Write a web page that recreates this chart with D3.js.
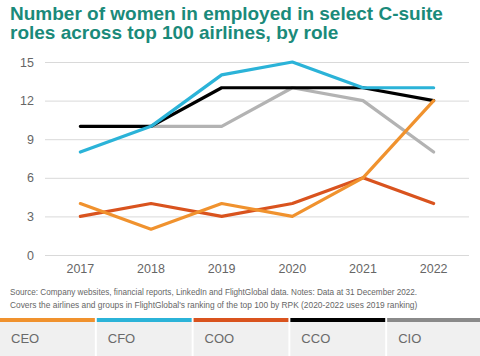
<!DOCTYPE html>
<html><head><meta charset="utf-8">
<script src="https://cdn.jsdelivr.net/npm/d3@7"></script>
<style>body{margin:0;background:#fff;}svg{display:block;font-family:"Liberation Sans",Arial,sans-serif;}</style>
</head><body>
<svg id="c" width="480" height="356"></svg>
<script>
const years = ["2017","2018","2019","2020","2021","2022"];
const ceo = [4,2,4,3,6,12];
const cfo = [8,10,14,15,13,13];
const coo = [3,4,3,4,6,4];
const cco = [10,10,13,13,13,12];
const cio = [null,10,10,13,12,8];
const yTicks = [0,3,6,9,12,15];
const seriesNames = ["CEO","CFO","COO","CCO","CIO"];
const seriesColors = ["#f0922e","#2bb3d8","#d9531e","#000000","#b3b3b3"];
const legendColors = ["#f0922e","#2bb3d8","#d9531e","#000000","#8a8a8a"];
const titleLines = ["Number of women in employed in select C-suite","roles across top 100 airlines, by role"];
const sourceLines = ["Source: Company websites, financial reports, LinkedIn and FlightGlobal data. Notes: Data at 31 December 2022.",
"Covers the airlines and groups in FlightGlobal's ranking of the top 100 by RPK (2020-2022 uses 2019 ranking)"];

const svg = d3.select("#c");
const x = d3.scaleBand().domain(years).range([45,469]);
const y = d3.scaleLinear().domain([0,15]).range([255,62]);

// title
svg.selectAll("text.title").data(titleLines).enter().append("text")
  .attr("x",10).attr("y",(d,i)=>20+i*18.5).attr("fill","#1a8a7a")
  .attr("font-weight","bold").attr("font-size",19).text(d=>d);

// grid
const gy = svg.append("g").attr("transform","translate(45,0)")
  .call(d3.axisLeft(y).tickValues(yTicks).tickSize(-424).tickPadding(11));
gy.select(".domain").remove();
gy.selectAll(".tick line").attr("stroke","#d9d9d9");
gy.selectAll(".tick text").attr("fill","#666").attr("font-size",12.5).attr("font-family","Liberation Sans, Arial, sans-serif");

const gx = svg.append("g").attr("transform","translate(0,256)")
  .call(d3.axisBottom(x).tickSize(0).tickPadding(8));
gx.select(".domain").remove();
gx.selectAll(".tick text").attr("fill","#666").attr("font-size",12.5).attr("font-family","Liberation Sans, Arial, sans-serif");

// lines
const all = [ceo,cfo,coo,cco,cio];
const order = [4,3,2,0,1];
const line = d3.line().defined(d=>d!=null)
  .x((d,i)=>x(years[i])+x.bandwidth()/2).y(d=>y(d));
order.forEach(k=>{
  svg.append("path").datum(all[k]).attr("d",line).attr("fill","none")
    .attr("stroke",seriesColors[k]).attr("stroke-width",3.2)
    .attr("stroke-linejoin","round").attr("stroke-linecap","round");
});

// source
const src = svg.selectAll("text.src").data(sourceLines).enter().append("text")
  .attr("x",10).attr("y",(d,i)=>295+i*13).attr("fill","#666").attr("font-size",10).text(d=>d);
src.each(function(){
  const w = this.getComputedTextLength();
  d3.select(this).attr("font-size", (10*408/w).toFixed(2));
});

// legend
const lx = d3.scaleBand().domain(seriesNames).range([0,482]).paddingInner(0.02);
const lg = svg.selectAll("g.leg").data(seriesNames).enter().append("g")
  .attr("transform",d=>`translate(${lx(d)},0)`);
lg.append("rect").attr("y",322).attr("width",lx.bandwidth()).attr("height",34).attr("fill","#f0f0f0");
lg.append("rect").attr("y",318).attr("width",lx.bandwidth()).attr("height",4).attr("fill",(d,i)=>legendColors[i]);
lg.append("text").attr("x",11).attr("y",343).attr("fill","#6a6a6a").attr("font-size",13).text(d=>d);
</script>
</body></html>
